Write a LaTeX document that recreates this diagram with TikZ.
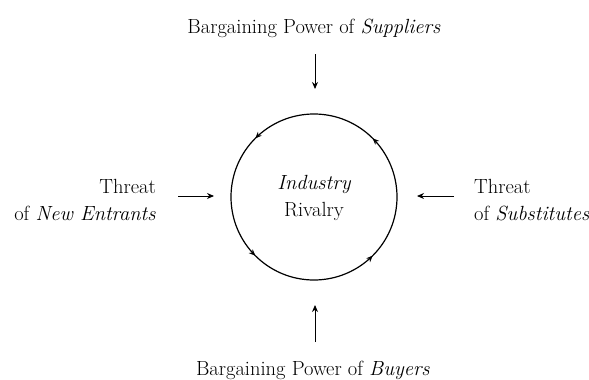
\documentclass[tikz,border=0pt]{standalone}
\usetikzlibrary{arrows.meta,decorations.markings}
\begin{document}
\begin{tikzpicture}[x=1pt,y=-1pt,
  label text/.style={inner sep=0pt,font=\rmfamily\fontsize{20.5}{24}\selectfont},
  force arrow/.style={-{Stealth[length=7pt,width=6pt]},line width=0.9pt},
  rivalry ring/.style={circle,draw,line width=1.2pt,minimum size=166pt,inner sep=0pt,
    postaction={decorate},
    decoration={markings,
      mark=at position 0.125 with {\arrow{Stealth[length=6.5pt,width=5.5pt]}},
      mark=at position 0.375 with {\arrow{Stealth[length=6.5pt,width=5.5pt]}},
      mark=at position 0.625 with {\arrow{Stealth[length=6.5pt,width=5.5pt]}},
      mark=at position 0.875 with {\arrow{Stealth[length=6.5pt,width=5.5pt]}}}}]
\useasboundingbox (0,0) rectangle (589,380);

% central force
\node[rivalry ring] (ring) at (314,197) {};
\node[label text,anchor=base] (ind) at (314,189) {\itshape Industry};
\node[label text,anchor=base] (riv) at (314,216) {Rivalry};

% suppliers (top)
\node[label text,anchor=base] (sup) at (314,33) {Bargaining Power of \textit{Suppliers}};
\coordinate (supA) at (315,54);
\coordinate (supB) at (315,89);
\draw[force arrow] (supA) -- (supB);

% buyers (bottom)
\node[label text,anchor=base] (buy) at (313,375) {Bargaining Power of \textit{Buyers}};
\coordinate (buyA) at (315,342);
\coordinate (buyB) at (315,305);
\draw[force arrow] (buyA) -- (buyB);

% new entrants (left)
\node[label text,anchor=base east] (ent1) at (156,193) {Threat};
\node[label text,anchor=base east] (ent2) at (156,220) {of \textit{New Entrants}};
\coordinate (entA) at (178,196);
\coordinate (entB) at (214,196);
\draw[force arrow] (entA) -- (entB);

% substitutes (right)
\node[label text,anchor=base west] (sub1) at (474,193) {Threat};
\node[label text,anchor=base west] (sub2) at (474,220) {of \textit{Substitutes}};
\coordinate (subA) at (454,196);
\coordinate (subB) at (417,196);
\draw[force arrow] (subA) -- (subB);
\end{tikzpicture}
\end{document}
